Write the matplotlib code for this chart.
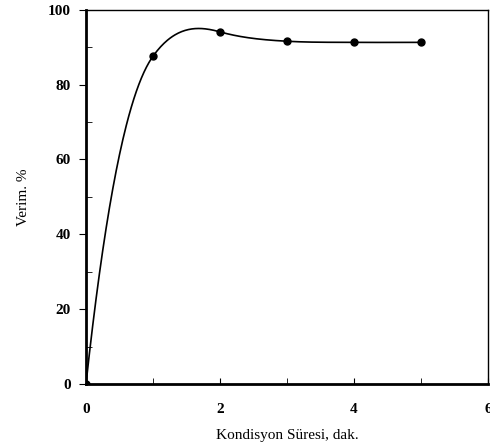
import numpy as np
import matplotlib
matplotlib.use("Agg")
import matplotlib.pyplot as plt
from matplotlib.ticker import MultipleLocator

# data
sure = [0, 1, 2, 3, 4, 5]
verim = [0, 87.6, 94.1, 91.6, 91.3, 91.3]
# slopes of the hand-drawn smooth curve at each point
egim = [165, 25, -5, -1.0, -0.1, 0]


def hermite(x, y, m, xs):
    # cubic hermite curve through the points with the given slopes
    out = np.zeros_like(xs)
    for j, xv in enumerate(xs):
        i = int(min(max(np.searchsorted(x, xv, side="right") - 1, 0), len(x) - 2))
        h = x[i + 1] - x[i]
        t = (xv - x[i]) / h
        h00 = 2 * t**3 - 3 * t**2 + 1
        h10 = t**3 - 2 * t**2 + t
        h01 = -2 * t**3 + 3 * t**2
        h11 = t**3 - t**2
        out[j] = h00 * y[i] + h10 * h * m[i] + h01 * y[i + 1] + h11 * h * m[i + 1]
    return out


plt.rcParams['font.family'] = ['Liberation Serif', 'DejaVu Serif']

fig = plt.figure(figsize=(4.9, 4.46), dpi=100)
ax = fig.add_axes([0.1755, 0.139, 0.8205, 0.839])

xs = np.linspace(0, 5, 400)
ax.plot(xs, hermite(sure, verim, egim, xs), color='black', lw=1.2)
ax.plot(sure, verim, 'o', color='black', ms=5)

ax.set_xlim(0, 6)
ax.set_ylim(0, 100)
ax.xaxis.set_major_locator(MultipleLocator(2))
ax.xaxis.set_minor_locator(MultipleLocator(1))
ax.yaxis.set_major_locator(MultipleLocator(20))
ax.yaxis.set_minor_locator(MultipleLocator(10))
ax.tick_params(axis='x', which='both', direction='in', length=4, labelsize=11, pad=14)
ax.tick_params(axis='y', which='major', direction='out', length=5, labelsize=11, pad=6)
ax.tick_params(axis='y', which='minor', direction='in', length=4)

for lab in ax.get_xticklabels() + ax.get_yticklabels():
    lab.set_fontweight('bold')

for s in ['left', 'bottom']:
    ax.spines[s].set_linewidth(2)
for s in ['top', 'right']:
    ax.spines[s].set_linewidth(1)

ax.set_xlabel('Kondisyon Süresi, dak.', fontsize=11, labelpad=9)
ax.set_ylabel('Verim. %', fontsize=11, labelpad=13)

fig.savefig('out.png', dpi=100)
